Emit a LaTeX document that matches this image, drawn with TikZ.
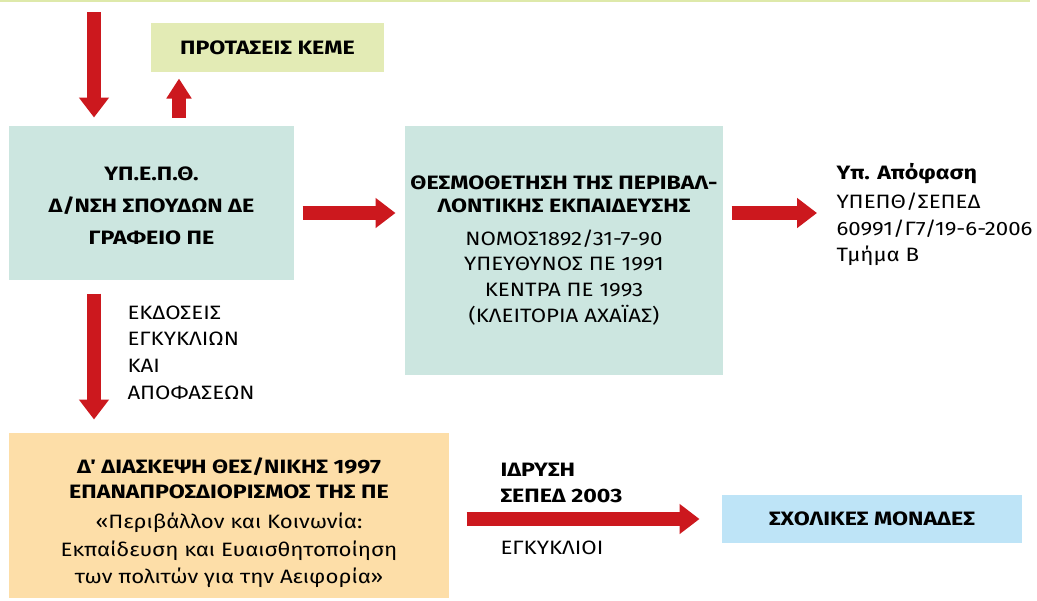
\documentclass[tikz,border=0pt]{standalone}
\usepackage{fontspec}
\setmainfont[FakeStretch=1.15,BoldFeatures={FakeStretch=1.2}]{Fira Sans}
\usetikzlibrary{arrows.meta}

\definecolor{boxteal}{RGB}{204,230,224}
\definecolor{boxlime}{RGB}{227,235,181}
\definecolor{boxsand}{RGB}{253,222,168}
\definecolor{boxsky}{RGB}{190,228,247}
\definecolor{arrowred}{RGB}{204,24,30}
\definecolor{topline}{RGB}{222,233,170}

\tikzset{every picture/.style={line width=0.75pt}}
\tikzset{
  bigarrow/.style={draw=arrowred, line width=10.5pt, -{Triangle[width=21.75pt,length=15pt]}},
  smallarrow/.style={draw=arrowred, line width=10.5pt, -{Triangle[width=18pt,length=15pt]}},
  panel/.style={inner sep=0pt, align=center, text=black},
  label/.style={inner sep=0pt, align=left, text=black},
}

\begin{document}
\begin{tikzpicture}[x=0.75pt,y=0.75pt,yscale=-1,xscale=1]
	\useasboundingbox (0,0) rectangle (1037,600);

	%Straight Lines: top rule
	\draw [topline, line width=1.5] (0,0.75) -- (1030,0.75) ;

	%Shape: Rectangle (ΚΕΜΕ)
	\node [panel, fill=boxlime, minimum width=174.75pt, minimum height=36.75pt,
		font=\fontsize{14.5}{19}\selectfont\bfseries] (keme) at (267.5,47.5) {ΠΡΟΤΑΣΕΙΣ ΚΕΜΕ};
	%Shape: Rectangle (ΥΠΕΠΘ)
	\node [panel, fill=boxteal, minimum width=213.75pt, minimum height=115.5pt,
		font=\fontsize{14.5}{24}\selectfont\bfseries] (ypepth) at (151.5,203)
		{\rule{0pt}{14pt}ΥΠ.Ε.Π.Θ.\\ Δ/ΝΣΗ ΣΠΟΥΔΩΝ ΔΕ\\ ΓΡΑΦΕΙΟ ΠΕ};
	%Shape: Rectangle (θεσμοθέτηση)
	\node [panel, fill=boxteal, minimum width=238.5pt, minimum height=186.75pt,
		font=\fontsize{14.5}{18.5}\selectfont] (thesmo) at (564,250.5)
		{\bfseries ΘΕΣΜΟΘΕΤΗΣΗ ΤΗΣ ΠΕΡΙΒΑΛ-\\[-1.25pt] \bfseries ΛΟΝΤΙΚΗΣ ΕΚΠΑΙΔΕΥΣΗΣ\\[6pt]
		 ΝΟΜΟΣ1892/31-7-90\\[0.8pt] ΥΠΕΥΘΥΝΟΣ ΠΕ 1991\\[0.8pt] ΚΕΝΤΡΑ ΠΕ 1993\\[0.8pt] (ΚΛΕΙΤΟΡΙΑ ΑΧΑΪΑΣ)};
	%Shape: Rectangle (διάσκεψη)
	\node [panel, fill=boxsand, minimum width=330pt, minimum height=123.75pt,
		font=\fontsize{14.5}{19}\selectfont] (diaskepsi) at (229,515.5)
		{\rule{0pt}{23pt}\bfseries Δ΄ ΔΙΑΣΚΕΨΗ ΘΕΣ/ΝΙΚΗΣ 1997\\ \bfseries ΕΠΑΝΑΠΡΟΣΔΙΟΡΙΣΜΟΣ ΤΗΣ ΠΕ\\[3.5pt]
		 «Περιβάλλον και Κοινωνία:\\[1.6pt] Εκπαίδευση και Ευαισθητοποίηση\\[1.6pt] των πολιτών για την Αειφορία»};
	%Shape: Rectangle (σχολικές μονάδες)
	\node [panel, fill=boxsky, minimum width=225pt, minimum height=36pt,
		font=\fontsize{14.5}{19}\selectfont\bfseries] (scholikes) at (872,519) {ΣΧΟΛΙΚΕΣ ΜΟΝΑΔΕΣ};

	% Text Node
	\node [label, anchor=west, font=\fontsize{14.5}{20}\selectfont] (apofasi) at (836,214.5)
		{\bfseries Υπ. Απόφαση\\[2pt] ΥΠΕΠΘ/ΣΕΠΕΔ\\ 60991/Γ7/19-6-2006\\ Τμήμα Β};
	% Text Node
	\node [label, anchor=west, font=\fontsize{14.5}{20}\selectfont] (ekdoseis) at (127,352.5)
		{ΕΚΔΟΣΕΙΣ\\ ΕΓΚΥΚΛΙΩΝ\\ ΚΑΙ\\ ΑΠΟΦΑΣΕΩΝ};
	% Text Node
	\node [label, anchor=west, font=\fontsize{14.5}{19.5}\selectfont\bfseries] (idrysi) at (500,482.5)
		{ΙΔΡΥΣΗ\\ ΣΕΠΕΔ 2003};
	% Text Node
	\node [label, anchor=west, font=\fontsize{14.5}{19}\selectfont] (egkyklioi) at (500,548) {ΕΓΚΥΚΛΙΟΙ};

	\coordinate (topstart) at (94,12);
	\coordinate (upcol) at (179,0);
	\coordinate (midrow) at (0,213);

	%Straight Lines [arrows]
	\draw [bigarrow, shorten >=6pt] (topstart) -- (topstart |- ypepth.north) ;
	\draw [smallarrow, shorten <=6pt, shorten >=4.5pt] (upcol |- ypepth.north) -- (upcol |- keme.south) ;
	\draw [bigarrow, shorten <=6pt, shorten >=6.75pt] (ypepth.east |- midrow) -- (thesmo.west |- midrow) ;
	\draw [bigarrow, shorten <=6pt, shorten >=14.25pt] (thesmo.east |- midrow) -- (apofasi.west |- midrow) ;
	\draw [bigarrow, shorten <=9.75pt, shorten >=9.75pt] (topstart |- ypepth.south) -- (topstart |- diaskepsi.north) ;
	\draw [bigarrow, shorten <=12.75pt, shorten >=16.5pt] (diaskepsi.east |- scholikes) -- (scholikes.west) ;

\end{tikzpicture}
\end{document}
